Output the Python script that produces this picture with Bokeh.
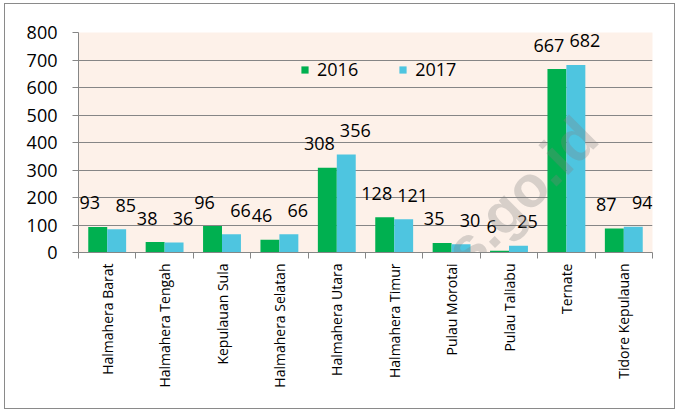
import numpy as np
from bokeh.plotting import figure
from bokeh.models import FixedTicker, Label, Range1d
from bokeh.core.properties import value
from bokeh.embed import file_html
from bokeh.resources import INLINE

categories = ["Halmahera Barat", "Halmahera Tengah", "Kepulauan Sula", "Halmahera Selatan",
              "Halmahera Utara", "Halmahera Timur", "Pulau Morotai", "Pulau Taliabu",
              "Ternate", "Tidore Kepulauan"]
values_2016 = [93, 38, 96, 46, 308, 128, 35, 6, 667, 87]
values_2017 = [85, 36, 66, 66, 356, 121, 30, 25, 682, 94]
y_ticks = [0, 100, 200, 300, 400, 500, 600, 700, 800]
series_names = ["2016", "2017"]
watermark = "malut.bps.go.id"

FONT = "Open Sans"
GREEN = "#00B050"
BLUE = "#4EC5E0"
GREY = "#868686"

n = len(categories)
centers = np.arange(n) + 0.5
bw = 0.33

p = figure(width=671, height=406, output_backend="svg", toolbar_location=None,
           x_range=Range1d(0, n), y_range=Range1d(0, 800),
           min_border_left=73, min_border_right=24, min_border_top=28, min_border_bottom=158)
p.styles = {"border": "1px solid #8a8a8a", "margin": "3px 0 0 4px"}
p.background_fill_color = "#FDF1E9"
p.border_fill_color = "white"
p.outline_line_color = None

p.vbar(x=centers - bw / 2, top=values_2016, width=bw, fill_color=GREEN, line_color=None,
       legend_label=series_names[0])
p.vbar(x=centers + bw / 2, top=values_2017, width=bw, fill_color=BLUE, line_color=None,
       legend_label=series_names[1])

p.text(x=centers - bw / 2, y=values_2016, text=[str(v) for v in values_2016],
       x_offset=-8, y_offset=-24, text_align="center", text_baseline="middle",
       text_font=value(FONT), text_font_size="18px", text_color="black")
p.text(x=centers + bw / 2, y=values_2017, text=[str(v) for v in values_2017],
       x_offset=9, y_offset=-24, text_align="center", text_baseline="middle",
       text_font=value(FONT), text_font_size="18px", text_color="black")

# y axis
p.yaxis.ticker = FixedTicker(ticks=y_ticks)
p.yaxis.axis_line_color = GREY
p.yaxis.major_tick_line_color = GREY
p.yaxis.major_tick_out = 6
p.yaxis.major_tick_in = 0
p.yaxis.minor_tick_line_color = None
p.yaxis.major_label_text_font = FONT
p.yaxis.major_label_text_font_size = "18px"
p.yaxis.major_label_text_color = "black"
p.yaxis.major_label_standoff = 15

# x axis
p.xaxis.ticker = FixedTicker(ticks=list(centers), minor_ticks=list(range(n + 1)))
p.xaxis.major_label_overrides = {float(c): cat for c, cat in zip(centers, categories)}
p.xaxis.major_label_orientation = np.pi / 2
p.xaxis.major_tick_line_color = None
p.xaxis.minor_tick_line_color = GREY
p.xaxis.minor_tick_out = 6
p.xaxis.minor_tick_in = 0
p.xaxis.axis_line_color = GREY
p.xaxis.major_label_text_font = FONT
p.xaxis.major_label_text_font_size = "14px"
p.xaxis.major_label_text_color = "black"
p.xaxis.major_label_standoff = 5

p.xgrid.grid_line_color = None
p.ygrid.ticker = FixedTicker(ticks=y_ticks)
p.ygrid.grid_line_color = GREY
p.ygrid.grid_line_width = 1

# legend
p.legend.orientation = "horizontal"
p.legend.location = (222, 171)
p.legend.background_fill_alpha = 0
p.legend.border_line_color = None
p.legend.padding = 0
p.legend.margin = 0
p.legend.spacing = 40
p.legend.glyph_width = 9
p.legend.glyph_height = 9
p.legend.label_standoff = 8
p.legend.label_text_font = FONT
p.legend.label_text_font_size = "18px"
p.legend.label_text_color = "black"

wm = Label(x=6.22, y=-94, text=watermark, angle=0.785, text_align="center",
           text_baseline="middle", text_font="Liberation Sans", text_font_style="bold",
           text_font_size="58px", text_color="#808080", text_alpha=0.3)
p.add_layout(wm)

open("out.html", "w").write(file_html(p, INLINE))
